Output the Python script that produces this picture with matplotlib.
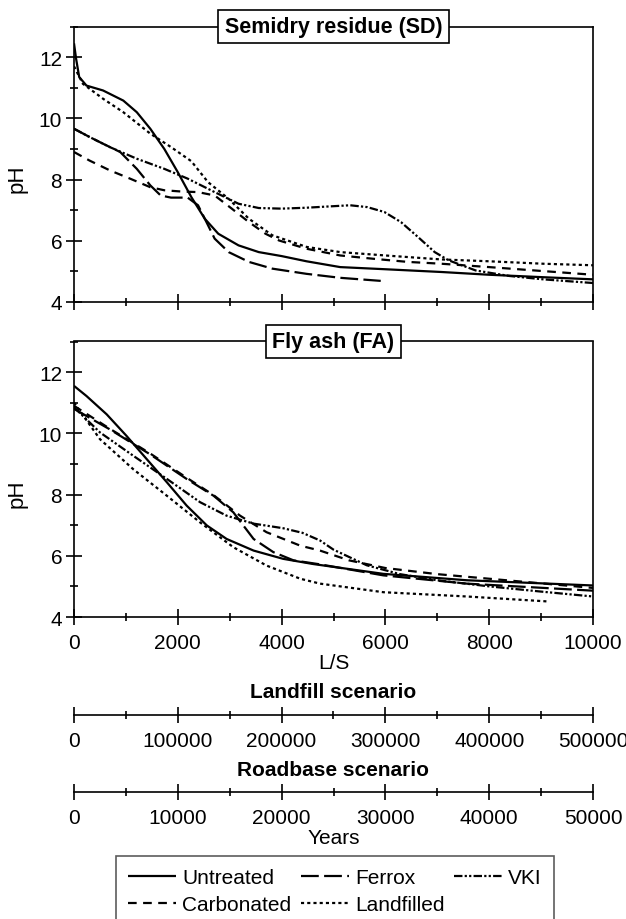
import matplotlib
matplotlib.use("Agg")
import matplotlib.pyplot as plt
from matplotlib.lines import Line2D
from matplotlib.ticker import MultipleLocator

plt.rcParams["font.family"] = ["Liberation Sans", "DejaVu Sans"]

# __Semidry residue (SD): pH vs L/S__
sd_untreated_x = [0, 40, 100, 240, 560, 950, 1210, 1470, 1740, 2000, 2260, 2520, 2780, 3170, 3560, 4000, 4480, 5130, 6000, 7080, 8000, 9040, 10000]
sd_untreated_y = [12.45, 11.95, 11.35, 11.07, 10.91, 10.58, 10.2, 9.66, 9.0, 8.24, 7.43, 6.72, 6.23, 5.85, 5.63, 5.5, 5.33, 5.14, 5.07, 4.98, 4.89, 4.81, 4.74]
sd_ferrox_x = [0, 300, 560, 890, 1210, 1470, 1670, 1870, 2190, 2390, 2520, 2710, 2980, 3370, 3820, 4480, 5130, 5910]
sd_ferrox_y = [9.66, 9.39, 9.17, 8.9, 8.35, 7.81, 7.48, 7.41, 7.41, 7.16, 6.72, 6.07, 5.63, 5.31, 5.09, 4.92, 4.79, 4.69]
sd_vki_x = [0, 300, 690, 1210, 1740, 2190, 2710, 3170, 3560, 4000, 4480, 5000, 5320, 5650, 5980, 6300, 6630, 6950, 7220, 7740, 8390, 9040, 10000]
sd_vki_y = [9.66, 9.39, 9.06, 8.68, 8.35, 8.03, 7.59, 7.21, 7.07, 7.05, 7.08, 7.13, 7.16, 7.1, 6.94, 6.61, 6.12, 5.63, 5.36, 5.03, 4.85, 4.74, 4.62]
sd_carbonated_x = [0, 300, 690, 1080, 1470, 1740, 2060, 2390, 2710, 3040, 3370, 3690, 3950, 4480, 5130, 5780, 6430, 7080, 8000, 9040, 10000]
sd_carbonated_y = [8.9, 8.62, 8.3, 8.03, 7.75, 7.65, 7.61, 7.59, 7.48, 7.05, 6.61, 6.23, 6.01, 5.74, 5.52, 5.41, 5.31, 5.25, 5.14, 5.01, 4.89]
sd_landfilled_x = [0, 170, 560, 950, 1470, 1870, 2260, 2580, 2980, 3370, 3820, 4480, 5130, 6000, 7080, 8000, 9040, 10000]
sd_landfilled_y = [11.7, 11.13, 10.64, 10.2, 9.5, 9.06, 8.6, 7.92, 7.37, 6.72, 6.18, 5.8, 5.63, 5.52, 5.39, 5.33, 5.25, 5.2]

# __Fly ash (FA): pH vs L/S__
fa_untreated_x = [0, 240, 630, 1010, 1400, 1790, 2170, 2560, 2940, 3460, 4030, 4610, 5960, 7570, 10000]
fa_untreated_y = [11.55, 11.22, 10.62, 9.92, 9.16, 8.4, 7.64, 6.99, 6.55, 6.17, 5.9, 5.73, 5.41, 5.2, 5.03]
fa_ferrox_x = [0, 690, 1460, 2170, 2690, 3070, 3460, 3840, 4230, 4740, 5960, 7570, 10000]
fa_ferrox_y = [10.8, 10.13, 9.32, 8.51, 7.96, 7.42, 6.55, 6.12, 5.85, 5.72, 5.36, 5.09, 4.86]
fa_vki_x = [0, 500, 1140, 1790, 2430, 2940, 3460, 4030, 4400, 4740, 5000, 5640, 6280, 7000, 8000, 9000, 10000]
fa_vki_y = [10.85, 10.03, 9.27, 8.51, 7.75, 7.31, 7.05, 6.9, 6.75, 6.5, 6.2, 5.69, 5.4, 5.2, 5.0, 4.83, 4.67]
fa_carbonated_x = [0, 690, 1460, 2170, 2690, 3200, 3710, 4360, 4740, 5300, 6000, 7000, 8000, 9000, 10000]
fa_carbonated_y = [10.9, 10.15, 9.35, 8.55, 7.98, 7.31, 6.77, 6.33, 6.17, 5.85, 5.6, 5.4, 5.25, 5.1, 4.95]
fa_landfilled_x = [0, 500, 1140, 1790, 2430, 3070, 3710, 4360, 4740, 5960, 7570, 9110]
fa_landfilled_y = [11.0, 9.81, 8.83, 7.96, 7.09, 6.28, 5.68, 5.25, 5.09, 4.81, 4.67, 4.51]

ls_ticks = [0, 2000, 4000, 6000, 8000, 10000]
landfill_ticks = [0, 100000, 200000, 300000, 400000, 500000]
roadbase_ticks = [0, 10000, 20000, 30000, 40000, 50000]

styles = {
    "Untreated": (0, ()),
    "Ferrox": (0, (8, 2.4)),
    "VKI": (0, (3.8, 1, 1, 1, 1, 1)),
    "Carbonated": (0, (3.9, 2.9)),
    "Landfilled": (0, (1.4, 1.4)),
}
LW = 1.6
FS = 15

W, H = 626, 920
fig = plt.figure(figsize=(W / 100, H / 100), dpi=100)
left = 74 / W
width = 519 / W


def style_axis(ax):
    for s in ax.spines.values():
        s.set_linewidth(1.2)
    ax.tick_params(axis="both", which="major", direction="inout", length=11,
                   width=1.2, labelsize=FS, colors="black")
    ax.tick_params(axis="both", which="minor", direction="inout", length=5.5, width=1.2)
    ax.tick_params(axis="x", pad=6)
    ax.tick_params(axis="y", pad=3)


panels = [
    (1 - 303 / H, "Semidry residue (SD)",
     [(sd_untreated_x, sd_untreated_y, "Untreated"), (sd_ferrox_x, sd_ferrox_y, "Ferrox"),
      (sd_vki_x, sd_vki_y, "VKI"), (sd_carbonated_x, sd_carbonated_y, "Carbonated"),
      (sd_landfilled_x, sd_landfilled_y, "Landfilled")]),
    (1 - 618 / H, "Fly ash (FA)",
     [(fa_untreated_x, fa_untreated_y, "Untreated"), (fa_ferrox_x, fa_ferrox_y, "Ferrox"),
      (fa_vki_x, fa_vki_y, "VKI"), (fa_carbonated_x, fa_carbonated_y, "Carbonated"),
      (fa_landfilled_x, fa_landfilled_y, "Landfilled")]),
]

for i, (bottom, title, series) in enumerate(panels):
    ax = fig.add_axes([left, bottom, width, 275.5 / H])
    for xs, ys, name in series:
        ax.plot(xs, ys, color="black", lw=LW, linestyle=styles[name], solid_capstyle="butt")
    ax.set_xlim(0, 10000)
    ax.set_ylim(4, 13)
    ax.set_yticks([4, 6, 8, 10, 12])
    ax.yaxis.set_minor_locator(MultipleLocator(1))
    ax.set_xticks(ls_ticks)
    ax.xaxis.set_minor_locator(MultipleLocator(1000))
    ax.tick_params(axis="y", which="both", right=False)
    style_axis(ax)
    if i == 0:
        ax.tick_params(axis="x", labelbottom=False)
    else:
        ax.set_xticklabels([str(t) for t in ls_ticks])
        ax.set_xlabel("L/S", fontsize=FS, labelpad=1)
    ax.set_ylabel("pH", fontsize=FS + 1)
    ax.yaxis.set_label_coords(-0.09, 0.45)
    ax.text(0.5, 1.0, title, transform=ax.transAxes, ha="center", va="center",
            fontsize=15.5, fontweight="bold",
            bbox=dict(boxstyle="square,pad=0.3", fc="white", ec="black", lw=1.2),
            zorder=10)

# __Time scales under the L/S axis__
for ypix, ticks, title, xlabel in [(716, landfill_ticks, "Landfill scenario", None),
                                   (793, roadbase_ticks, "Roadbase scenario", "Years")]:
    ax = fig.add_axes([left, 1 - ypix / H, width, 0.001])
    ax.set_facecolor("none")
    for s in ["left", "right", "top"]:
        ax.spines[s].set_visible(False)
    ax.set_yticks([])
    ax.set_xlim(ticks[0], ticks[-1])
    ax.set_xticks(ticks)
    ax.set_xticklabels([str(t) for t in ticks])
    ax.xaxis.set_minor_locator(MultipleLocator((ticks[1] - ticks[0]) / 2))
    style_axis(ax)
    ax.tick_params(axis="x", pad=6)
    fig.text(left + width / 2, 1 - (ypix - 23) / H, title, ha="center", va="center",
             fontsize=15, fontweight="bold")
    if xlabel:
        ax.set_xlabel(xlabel, fontsize=FS, labelpad=1)

labels = ["Untreated", "Carbonated", "Ferrox", "Landfilled", "VKI"]
handles = [Line2D([], [], color="black", lw=LW, linestyle=styles[n]) for n in labels]
leg = fig.legend(handles, labels, ncol=3, loc="upper center",
                 bbox_to_anchor=(335 / W, 1 - 857 / H), fontsize=FS, frameon=True,
                 fancybox=False, edgecolor="#333333", handlelength=2.3, handletextpad=0.3,
                 columnspacing=0.45, labelspacing=0.35, borderpad=0.6, borderaxespad=0)
leg.get_frame().set_linewidth(1.2)

fig.savefig("out.png", dpi=100)
